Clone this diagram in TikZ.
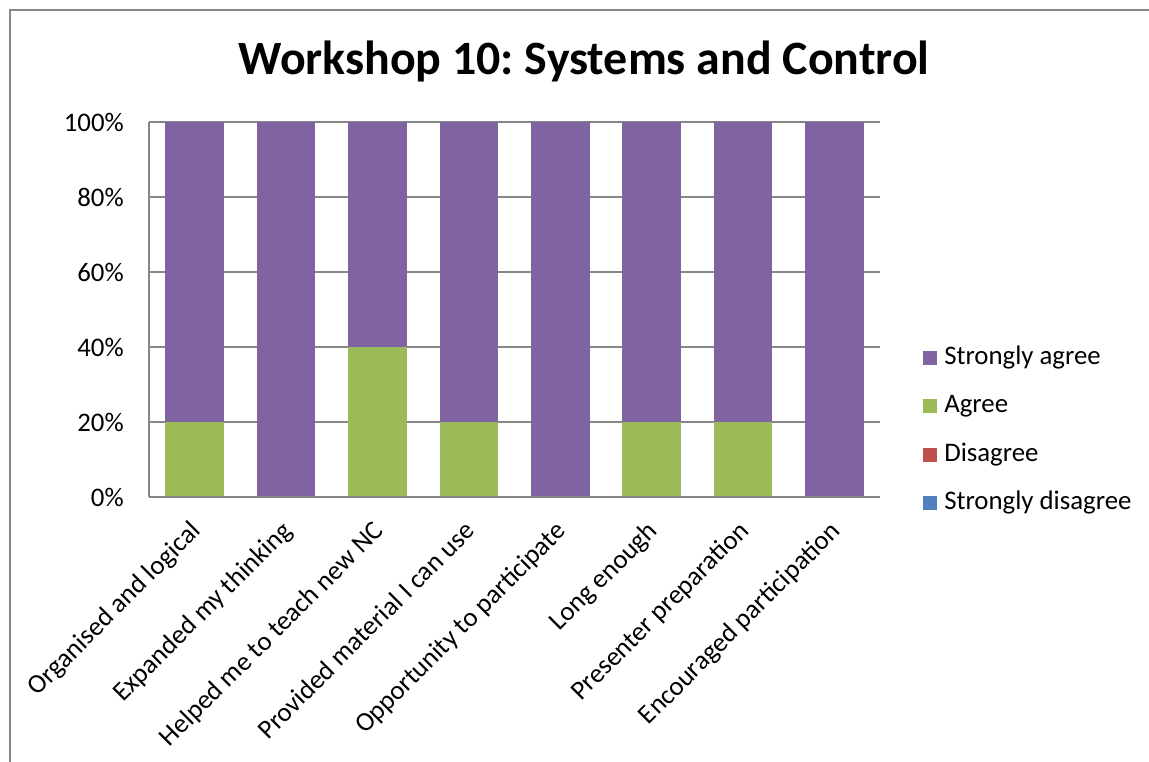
\documentclass[tikz,border=0pt]{standalone}
\usepackage{fontspec}
\setmainfont{Carlito}
\usepackage{tikz}
\frenchspacing

\definecolor{sagree}{HTML}{8064A2}
\definecolor{agree}{HTML}{9BBB59}
\definecolor{disagree}{HTML}{C0504D}
\definecolor{sdisagree}{HTML}{4F81BD}
\definecolor{gridgrey}{HTML}{878787}

\tikzset{
  gridline/.style = {draw=gridgrey, line width=1.4pt},
  axislabel/.style = {font=\fontsize{20.1}{22}\selectfont, inner sep=0pt},
  legkey/.style = {minimum size=10.5pt, inner sep=0pt},
}

\begin{document}
\begin{tikzpicture}[x=0.75pt, y=-0.75pt]
                \useasboundingbox (0,0) rectangle (1149,762);

                % outer frame
                \draw[gridgrey, line width=1.4pt] (10,762) -- (10,10) -- (1149,10);

                \node[font=\fontsize{35.9}{38}\selectfont\bfseries, inner sep=0pt] (title) at (584,61) {Workshop 10: Systems and Control};

                % grid and y labels
                \foreach \p in {0,20,40,60,80,100} {
                    \draw[gridline] (149,{497-3.75*\p}) -- (880,{497-3.75*\p});
                    \node[axislabel, anchor=east] (y\p) at (124,{497-3.75*\p}) {\p\%};
                }
                \draw[gridline] (149,122) -- (149,497);

                % bars
                \foreach \a [count=\i] in {20,0,40,20,0,20,20,0} {
                    \fill[sagree] ({149+91.4*(\i-0.5)-29.3},122) rectangle ({149+91.4*(\i-0.5)+29.3},{497-3.75*\a});
                    \fill[agree] ({149+91.4*(\i-0.5)-29.3},{497-3.75*\a}) rectangle ({149+91.4*(\i-0.5)+29.3},497);
                }
                \draw[gridline] (149,497) -- (880,497);

                % category labels
                \foreach \t [count=\i] in {Organised and logical,Expanded my thinking,Helped me to teach new NC,Provided material I can use,Opportunity to participate,Long enough,Presenter preparation,Encouraged participation} {
                    \node[axislabel, rotate=45, anchor=north east] (c\i) at ({149+91.4*(\i-0.5)-6},519) {\t};
                }

                % legend
                \foreach \c/\t [count=\i] in {sagree/Strongly agree,agree/Agree,disagree/Disagree,sdisagree/Strongly disagree} {
                    \node[legkey, fill=\c] (k\i) at (930,{358+48.3*(\i-1)}) {};
                    \node[axislabel, anchor=west] (l\i) at (944,{358+48.3*(\i-1)}) {\t};
                }
            \end{tikzpicture}
\end{document}
